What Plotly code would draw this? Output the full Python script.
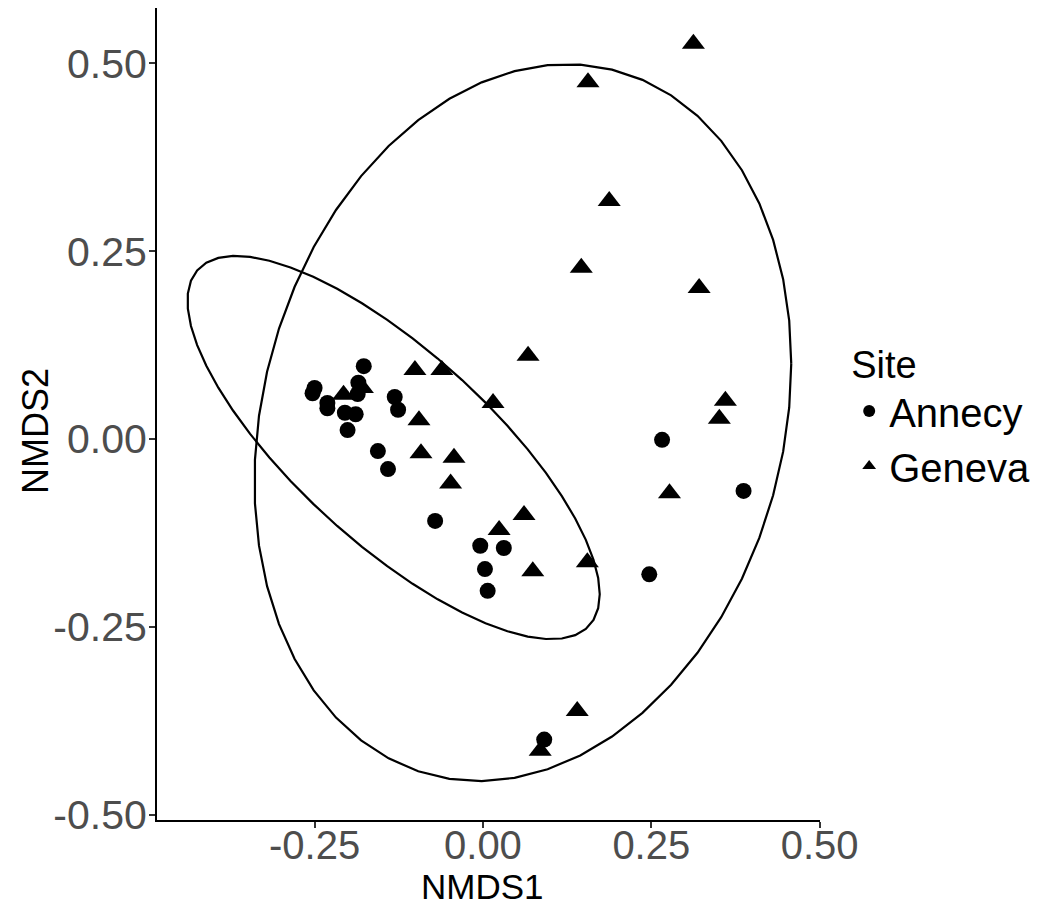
import numpy as np
import plotly.graph_objects as go

# ---- data ----
annecy_x = [-0.250, -0.253, -0.231, -0.231, -0.205, -0.189, -0.201, -0.177, -0.185, -0.186,
            -0.131, -0.126, -0.156, -0.141, -0.071, -0.004, 0.031, 0.003, 0.007,
            0.266, 0.387, 0.247, 0.091]
annecy_y = [0.068, 0.061, 0.048, 0.041, 0.035, 0.033, 0.012, 0.097, 0.075, 0.060,
            0.056, 0.039, -0.016, -0.040, -0.109, -0.142, -0.145, -0.173, -0.202,
            -0.001, -0.069, -0.180, -0.400]
geneva_x = [-0.207, -0.179, -0.101, -0.061, 0.015, -0.095, -0.092, -0.043, -0.048, 0.061,
            0.024, 0.074, 0.155, 0.3125, 0.156, 0.1875, 0.146, 0.321, 0.067, 0.360,
            0.351, 0.277, 0.085, 0.140]
geneva_y = [0.059, 0.068, 0.092, 0.092, 0.048, 0.025, -0.019, -0.025, -0.059, -0.101,
            -0.121, -0.176, -0.164, 0.526, 0.475, 0.317, 0.228, 0.201, 0.111, 0.051,
            0.027, -0.072, -0.415, -0.362]
sites = ["Annecy", "Geneva"]
x_ticks = [-0.25, 0.0, 0.25, 0.5]
y_ticks = [-0.5, -0.25, 0.0, 0.25, 0.5]
x_tick_text = ["-0.25", "0.00", "0.25", "0.50"]
y_tick_text = ["-0.50", "-0.25", "0.00", "0.25", "0.50"]
x_title = "NMDS1"
y_title = "NMDS2"
legend_title = "Site"


def cov_trob(x, nu=5, maxit=25, tol=0.01):
    n, p = x.shape
    wt = np.ones(n)
    loc = x.mean(axis=0)
    w = np.sqrt(wt)
    X = x - loc
    for _ in range(maxit):
        w0 = w
        X = x - loc
        U, d, Vt = np.linalg.svd(np.sqrt(w / w.sum())[:, None] * X, full_matrices=False)
        wX = X @ Vt.T @ np.diag(1.0 / d)
        Q = (wX ** 2).sum(axis=1)
        w = (wt * (nu + p)) / (nu + Q)
        loc = (w[:, None] * x).sum(axis=0) / w.sum()
        if np.all(np.abs(w - w0) < tol):
            break
    cov = (np.sqrt(w)[:, None] * X).T @ (np.sqrt(w)[:, None] * X) / wt.sum()
    return loc, cov


def stat_ellipse(xs, ys, level=0.95, segments=51):
    data = np.column_stack([xs, ys])
    n = len(xs)
    dfd = n - 1
    center, shape = cov_trob(data)
    chol = np.linalg.cholesky(shape).T  # upper triangular like R chol()
    fq = dfd / 2.0 * ((1 - level) ** (-2.0 / dfd) - 1)  # qf(level, 2, dfd)
    radius = np.sqrt(2 * fq)
    ang = np.arange(segments + 1) * 2 * np.pi / segments
    unit = np.column_stack([np.cos(ang), np.sin(ang)])
    ell = center + radius * (unit @ chol)
    return ell[:, 0], ell[:, 1]


fig = go.Figure()
fig.add_trace(go.Scatter(x=annecy_x, y=annecy_y, mode="markers", name=sites[0],
                         marker=dict(symbol="circle", size=16, color="black"),
                         legendgroup="a"))
fig.add_trace(go.Scatter(x=geneva_x, y=geneva_y, mode="markers", name=sites[1],
                         marker=dict(symbol="triangle-up", size=20, color="black"),
                         legendgroup="g"))
for xs, ys in [(annecy_x, annecy_y), (geneva_x, geneva_y)]:
    ex, ey = stat_ellipse(np.array(xs), np.array(ys))
    fig.add_trace(go.Scatter(x=ex, y=ey, mode="lines", showlegend=False,
                             line=dict(color="black", width=2.2), hoverinfo="skip"))

fig.update_layout(
    width=1045, height=897,
    paper_bgcolor="white", plot_bgcolor="white",
    margin=dict(l=149, r=233, t=0, b=85, autoexpand=False),
    font=dict(family="Liberation Sans, Arial, sans-serif", color="black"),
    legend=dict(title=dict(text=legend_title, font=dict(size=38)), font=dict(size=40),
                x=1.044, xanchor="left", y=0.5, yanchor="middle",
                tracegroupgap=0, itemsizing="constant"),
    annotations=[
        dict(text=x_title, x=0.4917, y=-0.0815, xref="paper", yref="paper",
             xanchor="center", yanchor="middle", showarrow=False,
             font=dict(size=35, color="black")),
        dict(text=y_title, x=-0.184, y=0.479, xref="paper", yref="paper",
             xanchor="center", yanchor="middle", showarrow=False, textangle=-90,
             font=dict(size=36, color="black")),
    ],
)
fig.update_xaxes(range=[-0.484, 0.5005], tickvals=x_ticks, ticktext=x_tick_text,
                 showgrid=False, zeroline=False, showline=True, linecolor="black",
                 linewidth=2, ticks="outside", ticklen=6, tickwidth=1.5, tickcolor="#333333",
                 tickfont=dict(size=40, color="#4D4D4D"), automargin=False,
                 ticklabelstandoff=-17)
fig.update_yaxes(range=[-0.507, 0.5737], tickvals=y_ticks, ticktext=y_tick_text,
                 showgrid=False, zeroline=False, showline=True, linecolor="black",
                 linewidth=2, ticks="outside", ticklen=6, tickwidth=1.5, tickcolor="#333333",
                 tickfont=dict(size=41, color="#4D4D4D"), automargin=False,
                 ticklabelstandoff=-6)

fig.write_html("out.html")
